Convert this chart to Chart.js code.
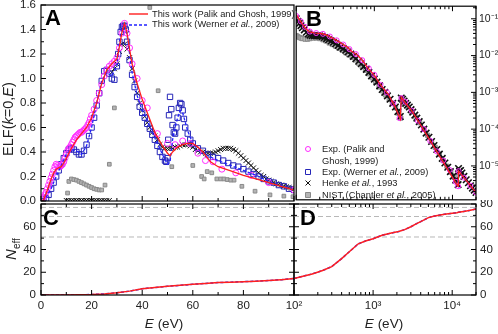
<!DOCTYPE html>
<html>
<head>
<meta charset="utf-8">
<script src="https://cdn.jsdelivr.net/npm/chart.js@4.4.0/dist/chart.umd.min.js"></script>
<style>
  body { margin: 0; background: #fff; }
  #figura { position: relative; width: 498px; height: 334px; overflow: hidden; font-family: "Liberation Sans", Arial, sans-serif; color: #222; }
  #figura canvas { position: absolute; }
  .painel { position: absolute; font-weight: bold; font-size: 22px; line-height: 1; color: #000; }
  .leg { position: absolute; font-size: 9.3px; line-height: 1; white-space: nowrap; color: #222; }
  .rot { position: absolute; line-height: 1; white-space: nowrap; color: #222; }
</style>
</head>
<body>
<div id="figura">
  <canvas id="graficoA" width="300" height="206" style="left:0;top:0"></canvas>
  <canvas id="graficoB" width="208" height="206" style="left:290px;top:0"></canvas>
  <canvas id="graficoC" width="300" height="134" style="left:0;top:200px"></canvas>
  <canvas id="graficoD" width="228" height="134" style="left:270px;top:200px"></canvas>

  <div class="painel" style="left:45px;top:7px">A</div>
  <div class="painel" style="left:306px;top:8px">B</div>
  <div class="painel" style="left:43px;top:207px">C</div>
  <div class="painel" style="left:300px;top:207px">D</div>

  <div class="leg" style="left:152px;top:10px">This work (Palik and Ghosh, 1999)</div>
  <div class="leg" style="left:152px;top:20px">This work (Werner <i>et al.</i>, 2009)</div>

  <div class="leg" style="left:322px;top:144.5px">Exp. (Palik and</div>
  <div class="leg" style="left:322px;top:156.5px">Ghosh, 1999)</div>
  <div class="leg" style="left:322px;top:167.5px">Exp. (Werner <i>et al.</i>, 2009)</div>
  <div class="leg" style="left:322px;top:178.5px">Henke <i>et al.</i>, 1993</div>
  <div class="leg" style="left:322px;top:190.5px">NIST (Chantler <i>et al.</i>, 2005)</div>

  <div class="rot" style="left:8px;top:119px;font-size:14.5px;transform:translate(-50%,-50%) rotate(-90deg)">ELF(<i>k</i>=0,<i>E</i>)</div>
  <div class="rot" style="left:10px;top:249px;font-size:15px;transform:translate(-50%,-50%) rotate(-90deg)"><i>N</i><span style="font-size:10px;position:relative;top:4px">eff</span></div>
  <div class="rot" style="left:164px;top:317px;font-size:13.5px;transform:translateX(-50%)"><i>E</i> (eV)</div>
  <div class="rot" style="left:384px;top:317px;font-size:13.5px;transform:translateX(-50%)"><i>E</i> (eV)</div>
</div>

<script>
// ---------- marcas dos eixos ----------
const ticksElf = [0, 0.2, 0.4, 0.6, 0.8, 1.0, 1.2, 1.4, 1.6];
const menoresElf = [0.1, 0.3, 0.5, 0.7, 0.9, 1.1, 1.3, 1.5];
const ticksE = [0, 20, 40, 60, 80, 100];
const menoresE = [10, 30, 50, 70, 90];
const ticksNeff = [0, 20, 40, 60, 80];
const menoresNeff = [10, 30, 50, 70];
const decadasE = [100, 1000, 10000];
const rotulosDecadasE = ["10\u00B2", "10\u00B3", "10\u2074"];
const decadasElf = [1e-1, 1e-2, 1e-3, 1e-4, 1e-5];
const rotulosDecadasElf = ["10\u207B\u00B9", "10\u207B\u00B2", "10\u207B\u00B3", "10\u207B\u2074", "10\u207B\u2075"];

// ---------- Painel A : ELF, 0-100 eV ----------
const eTeoriaPalikA = [0.5, 1, 2, 3, 4, 5, 6, 7, 8, 9, 10, 12, 14, 16, 18, 20, 22, 24, 26, 28, 30, 31, 32, 33, 34, 35, 36, 38, 40, 42, 45, 48, 50, 51, 52, 54, 56, 58, 60, 62, 64, 67, 70, 75, 80, 85, 90, 95, 100];
const elfTeoriaPalikA = [0, 0.01, 0.06, 0.12, 0.18, 0.23, 0.26, 0.27, 0.28, 0.31, 0.35, 0.43, 0.5, 0.55, 0.6, 0.68, 0.8, 0.96, 1.07, 1.12, 1.16, 1.26, 1.38, 1.45, 1.37, 1.24, 1.12, 0.96, 0.83, 0.72, 0.56, 0.45, 0.39, 0.37, 0.4, 0.44, 0.46, 0.47, 0.47, 0.44, 0.4, 0.32, 0.28, 0.245, 0.21, 0.18, 0.15, 0.12, 0.09];

const eTeoriaWernerA = [0.5, 2, 4, 6, 8, 10, 12, 14, 16, 18, 20, 22, 24, 26, 28, 30, 31, 32, 33, 34, 36, 38, 40, 42, 44, 46, 48, 50, 51, 52, 53, 54, 55, 56, 58, 60, 63, 66, 70, 75, 80, 85, 90, 95, 100];
const elfTeoriaWernerA = [0, 0.03, 0.1, 0.2, 0.29, 0.38, 0.42, 0.41, 0.38, 0.45, 0.6, 0.8, 0.98, 1.05, 1.02, 1.1, 1.3, 1.42, 1.44, 1.36, 1.05, 0.86, 0.74, 0.65, 0.56, 0.47, 0.38, 0.3, 0.32, 0.5, 0.6, 0.68, 0.74, 0.72, 0.57, 0.47, 0.41, 0.37, 0.33, 0.29, 0.25, 0.21, 0.16, 0.125, 0.095];

const eExpPalikA = [0.5, 1, 1.5, 2, 2.5, 3, 3.5, 4, 4.5, 5, 5.5, 6, 6.5, 7, 7.5, 8, 8.5, 9, 9.5, 10, 10.5, 11, 11.5, 12, 12.5, 13, 13.5, 14, 14.5, 15, 15.5, 16, 16.5, 17, 17.5, 18, 18.5, 19, 19.5, 20, 21, 22, 23, 24, 25, 26, 27, 28, 29, 30, 31, 32, 33, 34, 35, 36, 38, 40, 42, 46, 50, 53, 56, 59, 62, 65, 68, 71.5, 77, 83, 90, 100];
const elfExpPalikA = [0.02, 0.03, 0.05, 0.07, 0.1, 0.13, 0.16, 0.19, 0.22, 0.25, 0.28, 0.3, 0.29, 0.28, 0.28, 0.29, 0.3, 0.32, 0.35, 0.38, 0.41, 0.43, 0.44, 0.46, 0.48, 0.5, 0.52, 0.53, 0.54, 0.55, 0.56, 0.56, 0.57, 0.58, 0.59, 0.6, 0.62, 0.64, 0.67, 0.7, 0.75, 0.82, 0.88, 0.95, 1.02, 1.07, 1.1, 1.12, 1.14, 1.17, 1.25, 1.37, 1.45, 1.37, 1.25, 1.12, 1.0, 0.82, 0.76, 0.55, 0.47, 0.46, 0.49, 0.47, 0.39, 0.33, 0.32, 0.26, 0.23, 0.21, 0.15, 0.09];

const eExpWernerA = [1, 2, 3, 4, 5, 6, 7, 8, 9, 10, 11, 12, 13, 14, 15, 16, 17, 18, 19, 20, 21, 22, 23, 24, 25, 26, 27, 28, 29, 30, 30.5, 31, 31.5, 32, 32.5, 33, 33.5, 34, 35, 36, 37, 38, 39, 40, 41, 42, 43, 44, 45, 46, 47, 48, 49, 49.5, 50, 50.3, 50.6, 51, 51.5, 52, 52.5, 53, 53.5, 54, 54.5, 55, 55.5, 56, 56.5, 57, 58, 59, 60, 62, 64, 66, 68, 70, 72, 74, 76, 78, 80, 82, 84, 86, 88, 90, 92, 94, 96, 98, 100];
const elfExpWernerA = [0, 0.02, 0.05, 0.1, 0.15, 0.2, 0.25, 0.3, 0.35, 0.39, 0.42, 0.43, 0.42, 0.4, 0.38, 0.38, 0.41, 0.46, 0.53, 0.6, 0.68, 0.78, 0.88, 0.98, 1.06, 1.07, 1.04, 1.0, 0.99, 1.1, 1.2, 1.3, 1.38, 1.42, 1.43, 1.43, 1.4, 1.3, 1.15, 1.03, 0.93, 0.85, 0.77, 0.72, 0.68, 0.63, 0.59, 0.54, 0.5, 0.45, 0.4, 0.36, 0.33, 0.32, 0.35, 0.5, 0.7, 0.85, 0.75, 0.62, 0.56, 0.55, 0.6, 0.68, 0.76, 0.8, 0.79, 0.74, 0.67, 0.6, 0.55, 0.5, 0.47, 0.43, 0.41, 0.38, 0.36, 0.35, 0.33, 0.31, 0.29, 0.28, 0.26, 0.24, 0.22, 0.2, 0.18, 0.16, 0.15, 0.13, 0.12, 0.1, 0.09];

const eHenkeA = [10, 11, 12, 13, 14, 15, 16, 17, 18, 19, 20, 21, 22, 23, 24, 25, 26, 27, 28, 29, 30, 31, 32, 33, 34, 35, 36, 37, 38, 39, 40, 41, 42, 43, 44, 45, 46, 47, 48, 49, 50, 51, 52, 53, 54, 55, 56, 57, 58, 59, 60, 61, 62, 63, 64, 65, 66, 67, 68, 69, 70, 71, 72, 73, 74, 75, 76, 77, 78, 79, 80, 81, 82, 83, 84, 85, 86, 87, 88, 89, 90, 91, 92, 93, 94, 95, 96, 97, 98, 99, 100];
const elfHenkeA = [0.004, 0.004, 0.004, 0.004, 0.004, 0.004, 0.004, 0.004, 0.004, 0.004, 0.004, 0.004, 0.004, 0.004, 0.004, 0.004, 0.004, 0.004, 1.05, 1.08, 1.12, 1.22, 1.28, 1.28, 1.24, 1.17, 1.08, 0.98, 0.88, 0.8, 0.74, 0.69, 0.64, 0.6, 0.56, 0.53, 0.5, 0.46, 0.44, 0.43, 0.43, 0.43, 0.43, 0.44, 0.44, 0.45, 0.46, 0.46, 0.46, 0.45, 0.44, 0.42, 0.41, 0.4, 0.4, 0.39, 0.39, 0.39, 0.39, 0.4, 0.41, 0.42, 0.43, 0.43, 0.43, 0.43, 0.42, 0.41, 0.39, 0.37, 0.35, 0.33, 0.31, 0.29, 0.27, 0.25, 0.23, 0.21, 0.2, 0.18, 0.17, 0.16, 0.15, 0.14, 0.135, 0.13, 0.12, 0.115, 0.11, 0.105, 0.1];

const eNistA = [10.5, 11, 12, 13, 14, 15, 16, 17, 18, 19, 20, 21, 22, 23, 24, 25.3, 27, 29, 43, 46.3, 51.7, 60, 63.5, 64.5, 65.7, 67.5, 69.5, 71, 72.3, 73.6, 75, 76.3, 79.4, 84.6, 90.5, 96, 99.6];
const elfNistA = [0.065, 0.16, 0.18, 0.175, 0.17, 0.16, 0.15, 0.14, 0.13, 0.12, 0.11, 0.1, 0.095, 0.09, 0.09, 0.13, 0.3, 0.76, 1.58, 0.9, 0.28, 0.29, 0.2, 0.18, 0.24, 0.23, 0.18, 0.18, 0.18, 0.175, 0.17, 0.17, 0.12, 0.08, 0.05, 0.04, 0.035];

// ---------- Painel B : ELF log-log, 100 eV - 20 keV ----------
const eTeoriaB = [100, 110, 120, 135, 150, 175, 200, 230, 260, 300, 350, 400, 450, 500, 600, 700, 800, 1000, 1200, 1500, 1800, 2150, 2210, 2400, 2700, 3000, 3500, 4000, 5000, 6000, 7000, 8000, 9000, 10000, 11000, 11800, 11900, 12500, 14000, 16000, 18000, 20000];
const elfTeoriaPalikB = [0.13, 0.095, 0.072, 0.052, 0.044, 0.041, 0.04, 0.038, 0.034, 0.029, 0.024, 0.02, 0.017, 0.0135, 0.0105, 0.0075, 0.005, 0.0029, 0.0016, 0.0009, 0.00045, 0.00019, 0.00075, 0.00058, 0.00042, 0.00032, 0.00019, 0.00012, 0.000055, 0.000029, 0.000017, 0.0000107, 0.0000071, 0.0000049, 0.0000035, 0.0000028, 0.0000074, 0.0000065, 0.0000048, 0.0000034, 0.0000025, 0.0000019];
const elfTeoriaWernerB = [0.125, 0.093, 0.071, 0.052, 0.044, 0.041, 0.04, 0.038, 0.034, 0.029, 0.024, 0.02, 0.017, 0.0135, 0.0105, 0.0075, 0.005, 0.0029, 0.0016, 0.0009, 0.00045, 0.00019, 0.00075, 0.00058, 0.00042, 0.00032, 0.00019, 0.00012, 0.000055, 0.000029, 0.000017, 0.0000107, 0.0000071, 0.0000049, 0.0000035, 0.0000028, 0.0000074, 0.0000065, 0.0000048, 0.0000034, 0.0000025, 0.0000019];

const eExpPalikB = [100, 115, 130, 150, 180, 220, 270, 330, 400, 480, 580, 700, 850, 1000, 1200, 1450, 1750, 2100, 2220, 2500, 3000, 3600, 4300, 5200, 6300, 7600, 9200, 11000, 11800, 12000, 14000, 17000, 20000];
const elfExpPalikB = [0.12, 0.085, 0.06, 0.045, 0.041, 0.039, 0.033, 0.026, 0.02, 0.015, 0.011, 0.0075, 0.0045, 0.003, 0.0016, 0.001, 0.0005, 0.0002, 0.0007, 0.00055, 0.00032, 0.00017, 0.0001, 0.000048, 0.000025, 0.000014, 0.0000078, 0.0000037, 0.0000028, 0.0000072, 0.0000048, 0.0000029, 0.0000019];

const eHenkeB = [100, 105, 110, 115, 120, 127, 135, 143, 150, 160, 170, 180, 190, 200, 215, 230, 245, 260, 280, 300, 320, 345, 370, 400, 430, 460, 500, 540, 580, 630, 680, 730, 790, 850, 920, 1000, 1080, 1170, 1260, 1360, 1470, 1590, 1720, 1860, 2000, 2150, 2210, 2300, 2400, 2520, 2650, 2800, 2950, 3100, 3300, 3500, 3750, 4000, 4300, 4600, 5000, 5400, 5800, 6300, 6800, 7400, 8000, 8700, 9400, 10200, 11000, 11800, 11950, 12300, 12700, 13200, 14000, 15000, 16000, 17000, 18000, 19000, 20000];
const elfHenkeB = [0.1, 0.085, 0.075, 0.065, 0.057, 0.05, 0.043, 0.039, 0.036, 0.035, 0.035, 0.035, 0.035, 0.034, 0.033, 0.031, 0.029, 0.027, 0.025, 0.023, 0.021, 0.019, 0.017, 0.0155, 0.014, 0.0125, 0.011, 0.0095, 0.0082, 0.007, 0.006, 0.005, 0.0042, 0.0035, 0.0028, 0.0023, 0.0019, 0.0015, 0.0012, 0.001, 0.0008, 0.00065, 0.0005, 0.0004, 0.0003, 0.00022, 0.0007, 0.00065, 0.00058, 0.0005, 0.00045, 0.0004, 0.00034, 0.00029, 0.00024, 0.0002, 0.00016, 0.00013, 0.0001, 0.000078, 0.00006, 0.000046, 0.000036, 0.000028, 0.000021, 0.000016, 0.000012, 0.0000092, 0.000007, 0.0000053, 0.0000041, 0.0000031, 0.0000085, 0.0000072, 0.0000075, 0.0000064, 0.0000052, 0.0000042, 0.0000035, 0.0000029, 0.0000025, 0.0000022, 0.0000019];

const eNistB = [100, 105, 110, 115, 120, 130, 140, 150, 165, 180, 200, 220, 240, 265, 290, 320, 350, 390, 430, 470, 520, 570, 630, 700, 770, 850, 940, 1040, 1150, 1270, 1400, 1550, 1700, 1870, 2050, 2180, 2220, 2400, 2700, 3000, 3400, 3800, 4300, 4800, 5400, 6000, 6800, 7600, 8500, 9500, 10500, 11600];
const elfNistB = [0.035, 0.033, 0.031, 0.03, 0.029, 0.028, 0.028, 0.029, 0.03, 0.03, 0.029, 0.027, 0.025, 0.022, 0.02, 0.018, 0.016, 0.014, 0.012, 0.0105, 0.009, 0.0076, 0.0062, 0.005, 0.004, 0.0032, 0.0025, 0.0019, 0.0014, 0.0011, 0.00085, 0.00064, 0.0005, 0.00038, 0.00027, 0.0002, 0.00065, 0.00052, 0.0004, 0.0003, 0.00021, 0.00015, 0.0001, 0.000068, 0.000045, 0.000032, 0.000021, 0.000014, 0.0000098, 0.0000068, 0.0000049, 0.0000035];

// ---------- Painel C : N_eff, 0-100 eV ----------
const eNeffC = [0, 5, 10, 15, 20, 25, 30, 35, 40, 45, 50, 55, 60, 65, 70, 75, 80, 85, 90, 95, 100];
const neffPalikC = [0, 0.05, 0.1, 0.2, 0.4, 0.9, 1.9, 3.4, 5.5, 6.6, 7.6, 8.5, 9.4, 10.2, 10.9, 11.3, 11.7, 12.1, 12.7, 13.5, 14.5];
const neffWernerC = [0, 0.05, 0.1, 0.2, 0.4, 0.9, 1.9, 3.4, 5.5, 6.6, 7.6, 8.5, 9.4, 10.2, 10.9, 11.3, 11.7, 12.1, 12.7, 13.5, 14.5];

// ---------- Painel D : N_eff, 100 eV - 20 keV ----------
const eNeffD = [100, 130, 170, 230, 300, 400, 500, 650, 800, 1000, 1300, 1700, 2100, 2200, 2500, 3000, 3500, 4000, 5000, 6000, 8000, 10000, 11500, 12000, 14000, 17000, 20000];
const neffPalikD = [14.5, 16.5, 18.5, 21.5, 25, 32, 38, 45, 47.5, 49.5, 52.5, 54.5, 55.8, 56.2, 57.5, 60, 62.5, 64.5, 68, 69.5, 71, 71.8, 72.3, 72.8, 73.5, 74.5, 75.6];
const neffWernerD = [14.5, 16.5, 18.5, 21.5, 25, 32, 38, 45, 47.5, 49.5, 52.5, 54.5, 55.8, 56.2, 57.5, 60, 62.5, 64.5, 68, 69.5, 71, 71.8, 72.3, 72.8, 73.5, 74.5, 75.6];

// linhas tracejadas cinzas (camadas)
const niveisCamada = [51, 69, 77];


Chart.defaults.font.family = '"Liberation Sans", Arial, sans-serif';
Chart.defaults.font.size = 11.5;
Chart.defaults.color = "#222";

function pontos(xs, ys) {
    return xs.map((x, i) => ({ x: x, y: ys[i] }));
}

function menoresLog(de, ate) {
    const lista = [];
    for (let d = de; d <= ate; d++) {
        for (let m = 2; m <= 9; m++) lista.push(m * Math.pow(10, d));
    }
    return lista;
}

// moldura preta + ticks para dentro
const moldura = {
    id: "moldura",
    afterDatasetsDraw(chart, args, opcoes) {
        const ctx = chart.ctx;
        const a = chart.chartArea;
        ctx.save();
        ctx.strokeStyle = "#000";
        ctx.lineWidth = 1.2;
        ctx.strokeRect(a.left, a.top, a.right - a.left, a.bottom - a.top);
        ctx.lineWidth = 1;
        (opcoes.lados || []).forEach(l => {
            const s = chart.scales[l.eixo];
            const marca = (v, tam) => {
                const p = s.getPixelForValue(v);
                const vertical = (l.lado === "left" || l.lado === "right");
                if (vertical && (p < a.top - 0.5 || p > a.bottom + 0.5)) return;
                if (!vertical && (p < a.left - 0.5 || p > a.right + 0.5)) return;
                const fora = l.ambos ? tam : 0;
                ctx.beginPath();
                if (l.lado === "left") { ctx.moveTo(a.left - fora, p); ctx.lineTo(a.left + tam, p); }
                if (l.lado === "right") { ctx.moveTo(a.right + fora, p); ctx.lineTo(a.right - tam, p); }
                if (l.lado === "top") { ctx.moveTo(p, a.top - fora); ctx.lineTo(p, a.top + tam); }
                if (l.lado === "bottom") { ctx.moveTo(p, a.bottom + fora); ctx.lineTo(p, a.bottom - tam); }
                ctx.stroke();
            };
            l.maiores.forEach(v => marca(v, 5));
            (l.menores || []).forEach(v => marca(v, 3));
        });
        ctx.restore();
    }
};

// simbolos das legendas (o texto fica no html)
const amostras = {
    id: "amostras",
    afterDraw(chart, args, opcoes) {
        const ctx = chart.ctx;
        ctx.save();
        (opcoes.itens || []).forEach(it => {
            ctx.strokeStyle = it.cor;
            ctx.fillStyle = it.fundo || "rgba(0,0,0,0)";
            ctx.lineWidth = 1;
            ctx.beginPath();
            if (it.tipo === "linha") {
                ctx.lineWidth = 1.4;
                ctx.setLineDash(it.dash || []);
                ctx.moveTo(it.x, it.y);
                ctx.lineTo(it.x2, it.y);
                ctx.stroke();
                ctx.setLineDash([]);
            } else if (it.tipo === "circulo") {
                ctx.arc(it.x, it.y, 2.5, 0, Math.PI * 2);
                ctx.stroke();
            } else if (it.tipo === "quadrado") {
                ctx.rect(it.x - 2.5, it.y - 2.5, 5, 5);
                if (it.fundo) ctx.fill();
                ctx.stroke();
            } else if (it.tipo === "x") {
                ctx.moveTo(it.x - 2.5, it.y - 2.5); ctx.lineTo(it.x + 2.5, it.y + 2.5);
                ctx.moveTo(it.x - 2.5, it.y + 2.5); ctx.lineTo(it.x + 2.5, it.y - 2.5);
                ctx.stroke();
            }
        });
        ctx.restore();
    }
};

const linhaVermelha = { showLine: true, borderColor: "#ff1f1f", borderWidth: 1.3, pointRadius: 0, tension: 0 };
const linhaAzul = { showLine: true, borderColor: "#2222ff", borderWidth: 1.3, borderDash: [3, 2], pointRadius: 0, tension: 0 };
const marcaPalik = { showLine: false, pointStyle: "circle", pointRadius: 3, pointBorderWidth: 1, pointBorderColor: "#ff2bff", pointBackgroundColor: "rgba(0,0,0,0)" };
const marcaWerner = { showLine: false, pointStyle: "rect", pointRadius: 3.8, pointBorderWidth: 1, pointBorderColor: "#2626b8", pointBackgroundColor: "rgba(0,0,0,0)" };
const marcaHenke = { showLine: false, pointStyle: "crossRot", pointRadius: 3.5, pointBorderWidth: 1, pointBorderColor: "#111" };
const marcaNist = { showLine: false, pointStyle: "rect", pointRadius: 2.6, pointBorderWidth: 1, pointBorderColor: "#8a8a8a", pointBackgroundColor: "#b4b4b4" };
const tracejadoCinza = { showLine: true, borderColor: "#b8b8b8", borderWidth: 1, borderDash: [5, 3], pointRadius: 0 };

const pluginsBase = { legend: { display: false }, tooltip: { enabled: false } };
const semGrade = { display: false, drawTicks: false, tickLength: 0 };


// ===== grafico A =====
new Chart(document.getElementById("graficoA"), {
    type: "scatter",
    data: {
        datasets: [
            { ...linhaVermelha, data: pontos(eTeoriaPalikA, elfTeoriaPalikA) },
            { ...linhaAzul, data: pontos(eTeoriaWernerA, elfTeoriaWernerA) },
            { ...marcaPalik, data: pontos(eExpPalikA, elfExpPalikA) },
            { ...marcaWerner, data: pontos(eExpWernerA, elfExpWernerA) },
            { ...marcaHenke, data: pontos(eHenkeA, elfHenkeA) },
            { ...marcaNist, data: pontos(eNistA, elfNistA) }
        ]
    },
    options: {
        responsive: false,
        animation: false,
        events: [],
        layout: { padding: { top: 5, bottom: 2, left: 0, right: 6 } },
        scales: {
            x: { type: "linear", display: false, min: 0, max: 100 },
            y: {
                type: "linear", position: "left", min: 0, max: 1.6,
                afterBuildTicks: s => { s.ticks = ticksElf.map(v => ({ value: v })); },
                afterFit: s => { s.width = 41; s.paddingTop = 0; s.paddingBottom = 0; },
                grid: semGrade, border: { display: false },
                ticks: { padding: 5, callback: v => v.toFixed(1) }
            }
        },
        plugins: {
            ...pluginsBase,
            moldura: {
                lados: [
                    { eixo: "y", lado: "left", maiores: ticksElf, menores: menoresElf },
                    { eixo: "x", lado: "bottom", maiores: ticksE, menores: menoresE }
                ]
            },
            amostras: {
                itens: [
                    { tipo: "linha", cor: "#ff1f1f", x: 129, x2: 148, y: 14 },
                    { tipo: "linha", cor: "#2222ff", dash: [3, 2], x: 129, x2: 148, y: 25 }
                ]
            }
        }
    },
    plugins: [moldura, amostras]
});

// ===== grafico B =====
new Chart(document.getElementById("graficoB"), {
    type: "scatter",
    data: {
        datasets: [
            { ...linhaVermelha, data: pontos(eTeoriaB, elfTeoriaPalikB) },
            { ...linhaAzul, data: pontos(eTeoriaB, elfTeoriaWernerB) },
            { ...marcaPalik, pointRadius: 2.5, data: pontos(eExpPalikB, elfExpPalikB) },
            { ...marcaHenke, pointRadius: 4.6, pointBorderWidth: 1.6, data: pontos(eHenkeB, elfHenkeB) },
            { ...marcaNist, pointRadius: 3, data: pontos(eNistB, elfNistB) }
        ]
    },
    options: {
        responsive: false,
        animation: false,
        events: [],
        layout: { padding: { top: 5, bottom: 2, left: 4, right: 0 } },
        scales: {
            x: { type: "logarithmic", display: false, min: 100, max: 20000 },
            y: {
                type: "logarithmic", position: "right", min: 1.2e-6, max: 0.22,
                afterBuildTicks: s => { s.ticks = decadasElf.map(v => ({ value: v })); },
                afterFit: s => { s.width = 22; s.paddingTop = 0; s.paddingBottom = 0; },
                grid: semGrade, border: { display: false },
                ticks: { padding: 3, font: { size: 10.5 }, callback: (v, i) => rotulosDecadasElf[i] }
            }
        },
        plugins: {
            ...pluginsBase,
            moldura: {
                lados: [
                    { eixo: "y", lado: "right", maiores: decadasElf, menores: menoresLog(-6, -1) },
                    { eixo: "x", lado: "top", maiores: decadasE, menores: menoresLog(2, 4) },
                    { eixo: "x", lado: "bottom", maiores: decadasE, menores: menoresLog(2, 4) }
                ]
            },
            amostras: {
                itens: [
                    { tipo: "circulo", cor: "#ff2bff", x: 18, y: 149 },
                    { tipo: "quadrado", cor: "#2626b8", x: 18, y: 172 },
                    { tipo: "x", cor: "#111", x: 18, y: 183 },
                    { tipo: "quadrado", cor: "#8a8a8a", fundo: "#b4b4b4", x: 18, y: 195 }
                ]
            }
        }
    },
    plugins: [moldura, amostras]
});

// ===== grafico C =====
new Chart(document.getElementById("graficoC"), {
    type: "scatter",
    data: {
        datasets: [
            { ...linhaVermelha, borderWidth: 1.5, data: pontos(eNeffC, neffPalikC) },
            { ...linhaAzul, borderWidth: 1.5, data: pontos(eNeffC, neffWernerC) },
            ...niveisCamada.map(n => ({ ...tracejadoCinza, data: [{ x: 0, y: n }, { x: 100, y: n }] }))
        ]
    },
    options: {
        responsive: false,
        animation: false,
        events: [],
        layout: { padding: { top: 4, bottom: 0, left: 0, right: 6 } },
        scales: {
            x: {
                type: "linear", position: "bottom", min: 0, max: 100,
                afterBuildTicks: s => { s.ticks = ticksE.map(v => ({ value: v })); },
                afterFit: s => { s.height = 39; s.paddingLeft = 0; s.paddingRight = 0; },
                grid: semGrade, border: { display: false },
                ticks: { padding: 4, maxRotation: 0, callback: v => (v === 100 ? "" : v) }
            },
            y: {
                type: "linear", position: "left", min: 0, max: 80,
                afterBuildTicks: s => { s.ticks = ticksNeff.map(v => ({ value: v })); },
                afterFit: s => { s.width = 41; s.paddingTop = 0; s.paddingBottom = 0; },
                grid: semGrade, border: { display: false },
                ticks: { padding: 5, callback: v => (v === 80 ? "" : v) }
            }
        },
        plugins: {
            ...pluginsBase,
            moldura: {
                lados: [
                    { eixo: "y", lado: "left", maiores: ticksNeff, menores: menoresNeff },
                    { eixo: "x", lado: "top", maiores: ticksE, menores: menoresE },
                    { eixo: "x", lado: "bottom", maiores: ticksE, menores: menoresE }
                ]
            }
        }
    },
    plugins: [moldura]
});

// ===== grafico D =====
new Chart(document.getElementById("graficoD"), {
    type: "scatter",
    data: {
        datasets: [
            { ...linhaVermelha, borderWidth: 1.5, data: pontos(eNeffD, neffPalikD) },
            { ...linhaAzul, borderWidth: 1.5, data: pontos(eNeffD, neffWernerD) },
            ...niveisCamada.map(n => ({ ...tracejadoCinza, data: [{ x: 100, y: n }, { x: 20000, y: n }] }))
        ]
    },
    options: {
        responsive: false,
        animation: false,
        events: [],
        layout: { padding: { top: 4, bottom: 0, left: 24, right: 0 } },
        scales: {
            x: {
                type: "logarithmic", position: "bottom", min: 100, max: 20000,
                afterBuildTicks: s => { s.ticks = decadasE.map(v => ({ value: v })); },
                afterFit: s => { s.height = 39; s.paddingLeft = 0; s.paddingRight = 0; },
                grid: semGrade, border: { display: false },
                ticks: { padding: 4, maxRotation: 0, callback: (v, i) => rotulosDecadasE[i] }
            },
            y: {
                type: "linear", position: "right", min: 0, max: 80,
                afterBuildTicks: s => { s.ticks = ticksNeff.map(v => ({ value: v })); },
                afterFit: s => { s.width = 22; s.paddingTop = 0; s.paddingBottom = 0; },
                grid: semGrade, border: { display: false },
                ticks: { padding: 4 }
            }
        },
        plugins: {
            ...pluginsBase,
            moldura: {
                lados: [
                    { eixo: "y", lado: "left", maiores: ticksNeff, menores: menoresNeff, ambos: true },
                    { eixo: "y", lado: "right", maiores: ticksNeff, menores: menoresNeff },
                    { eixo: "x", lado: "top", maiores: decadasE, menores: menoresLog(2, 4) },
                    { eixo: "x", lado: "bottom", maiores: decadasE, menores: menoresLog(2, 4) }
                ]
            }
        }
    },
    plugins: [moldura]
});
</script>
</body>
</html>
